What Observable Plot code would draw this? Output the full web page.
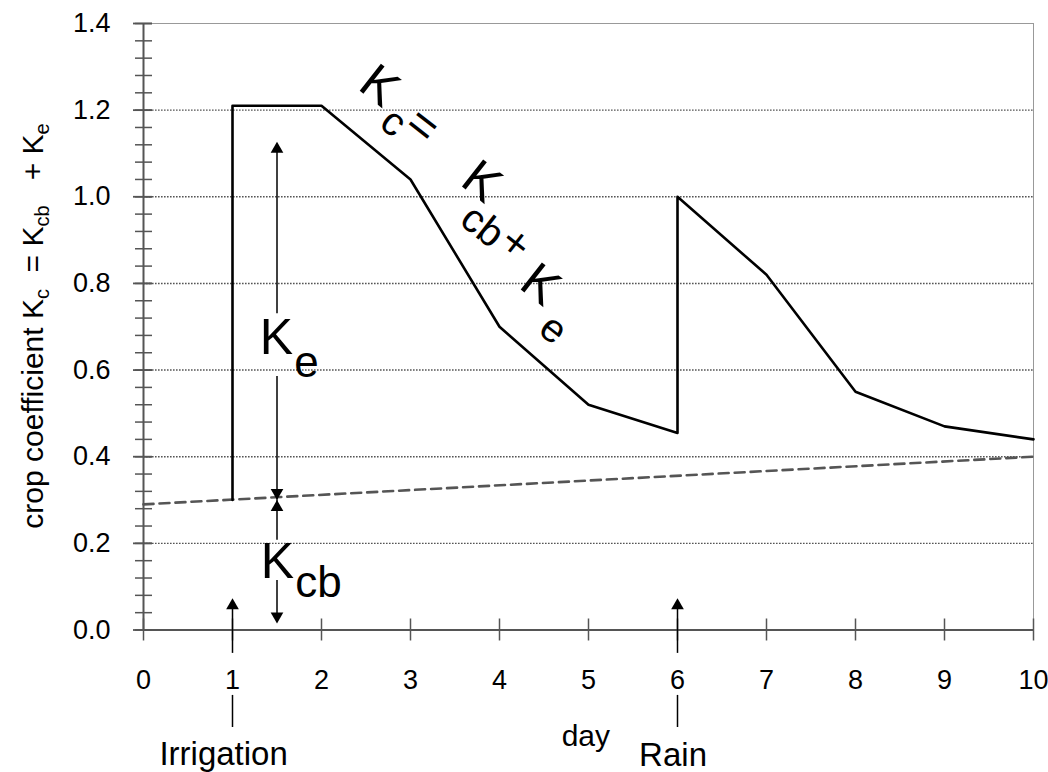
<!DOCTYPE html>
<html><head><meta charset="utf-8">
<script src="https://cdn.jsdelivr.net/npm/d3@7"></script>
<script src="https://cdn.jsdelivr.net/npm/@observablehq/plot@0.6"></script>
<style>body{margin:0;background:#fff}</style>
</head><body><div id="chart"></div>
<script>
// ---- data ----
const kcDays   = [1, 1, 2, 3, 4, 5, 6, 6, 7, 8, 9, 10];
const kcValues = [0.30, 1.21, 1.21, 1.04, 0.70, 0.52, 0.455, 1.00, 0.82, 0.55, 0.47, 0.44];
const kcbDays   = [0, 10];
const kcbValues = [0.29, 0.40];
const xTicks = [0, 1, 2, 3, 4, 5, 6, 7, 8, 9, 10];
const yTicks = [0, 0.2, 0.4, 0.6, 0.8, 1.0, 1.2, 1.4];
const yTickLabels = ["0.0", "0.2", "0.4", "0.6", "0.8", "1.0", "1.2", "1.4"];
const gridValues = [0.2, 0.4, 0.6, 0.8, 1.0, 1.2];
const yMinorTicks = d3.range(0, 1.4001, 0.04);

// annotation arrows (shafts & heads)
const shafts = [
  {x: 1.5, y1: 0.30, y2: 0.585}, {x: 1.5, y1: 0.73, y2: 1.11},
  {x: 1.5, y1: 0.30, y2: 0.207}, {x: 1.5, y1: 0.114, y2: 0.02},
  {x: 1, y1: -0.054, y2: 0.06}, {x: 1, y1: -0.151, y2: -0.225},
  {x: 6, y1: -0.054, y2: 0.06}, {x: 6, y1: -0.151, y2: -0.225}
];
const headsUp = [{x: 1.5, y: 1.127}, {x: 1.5, y: 0.30}, {x: 1, y: 0.073}, {x: 6, y: 0.073}];
const headsDown = [{x: 1.5, y: 0.30}, {x: 1.5, y: 0.015}];

const eventLabels = [{x: 0.9, y: -0.287, text: "Irrigation"}, {x: 5.95, y: -0.29, text: "Rain"}];
const xTitle = [{x: 4.97, y: -0.245, text: "day"}];

const keLabel = [
  {x: 1.494, y: 0.675, text: "K", size: 50},
  {x: 1.831, y: 0.616, text: "e", size: 44},
  {x: 1.506, y: 0.156, text: "K", size: 50},
  {x: 1.966, y: 0.108, text: "cb", size: 44}
];
const kcFormula = [
  {x: 2.652, y: 1.256, text: "K", size: 50},
  {x: 2.809, y: 1.172, text: "c", size: 40},
  {x: 3.135, y: 1.164, text: "=", size: 48},
  {x: 3.80, y: 1.035, text: "K", size: 50},
  {x: 3.809, y: 0.932, text: "cb", size: 40},
  {x: 4.18, y: 0.892, text: "+", size: 44},
  {x: 4.461, y: 0.797, text: "K", size: 50},
  {x: 4.607, y: 0.694, text: "e", size: 40}
];

const kc = kcDays.map((d, i) => ({day: d, value: kcValues[i]}));
const kcb = kcbDays.map((d, i) => ({day: d, value: kcbValues[i]}));

const plot = Plot.plot({
  width: 1048, height: 772,
  marginLeft: 143, marginRight: 15, marginTop: 23, marginBottom: 142.5,
  x: {domain: [0, 10], label: null},
  y: {domain: [0, 1.4], label: null},
  style: {fontFamily: "'Liberation Sans', Arial, sans-serif", fontSize: "27px", color: "#000", background: "#fff", overflow: "visible"},
  marks: [
    Plot.ruleY(gridValues, {y: d => d, stroke: "#555", strokeWidth: 1.4, strokeDasharray: "1.6,1.4"}),
    Plot.frame({stroke: "#999", strokeWidth: 1}),
    Plot.line(kcb, {x: "day", y: "value", stroke: "#555", strokeWidth: 2.6, strokeDasharray: "10,6"}),
    Plot.line(kc, {x: "day", y: "value", stroke: "#000", strokeWidth: 2.6}),
    // axis lines & ticks
    Plot.ruleY([0], {stroke: "#555", strokeWidth: 2}),
    Plot.ruleX([0], {stroke: "#555", strokeWidth: 2}),
    Plot.ruleX(xTicks, {x: d => d, y1: 0, y2: 0, insetTop: -11, insetBottom: -11, stroke: "#555", strokeWidth: 1.5}),
    Plot.ruleY(yTicks, {y: d => d, x1: 0, x2: 0, insetLeft: -10, insetRight: -9, stroke: "#555", strokeWidth: 1.8}),
    Plot.ruleY(yMinorTicks, {y: d => d, x1: 0, x2: 0, insetLeft: -8, insetRight: -9, stroke: "#555", strokeWidth: 1.5}),
    Plot.axisX({ticks: xTicks, tickSize: 0, tickPadding: 40, label: null, fontSize: 27}),
    Plot.axisY({ticks: yTicks, tickSize: 0, tickPadding: 33, label: null, fontSize: 27,
      tickFormat: d => yTickLabels[yTicks.indexOf(d)] ?? d3.format(".1f")(d)}),
    // arrows
    Plot.ruleX(shafts, {x: "x", y1: "y1", y2: "y2", stroke: "#000", strokeWidth: 1.5}),
    Plot.dot(headsUp, {x: "x", y: "y", symbol: "triangle", r: 4.7, fill: "#000", stroke: "none", dy: 7.3}),
    Plot.dot(headsDown, {x: "x", y: "y", symbol: "triangle", r: 4.7, fill: "#000", stroke: "none", rotate: 180, dy: -7.3}),
    // texts
    Plot.text(eventLabels, {x: "x", y: "y", text: "text", fontSize: 33, lineAnchor: "middle", fill: "#000"}),
    Plot.text(xTitle, {x: "x", y: "y", text: "text", fontSize: 30, lineAnchor: "middle", fill: "#000"}),
    Plot.text(keLabel, {x: "x", y: "y", text: "text", fontSize: d => d.size, lineAnchor: "middle", fill: "#000"}),
    Plot.text(kcFormula, {x: "x", y: "y", text: "text", fontSize: d => d.size, lineAnchor: "middle", rotate: 38, fill: "#000"})
  ]
});

// y-axis title with subscripts
const yTitleParts = [
  {t: "crop coefficient K", sub: false},
  {t: "c", sub: true},
  {t: "  = K", sub: false},
  {t: "cb", sub: true},
  {t: "   + K", sub: false},
  {t: "e", sub: true}
];
const svg = d3.select(plot);
const yt = svg.append("text")
  .attr("transform", "translate(43,326) rotate(-90)")
  .attr("text-anchor", "middle")
  .attr("font-size", 30)
  .attr("fill", "#000")
  .style("white-space", "pre");
let prevSub = false;
yTitleParts.forEach(p => {
  const ts = yt.append("tspan").text(p.t);
  if (p.sub) { ts.attr("font-size", 20).attr("dy", 6); }
  else if (prevSub) { ts.attr("dy", -6); }
  prevSub = p.sub;
});

document.getElementById("chart").appendChild(plot);
</script>
</body></html>
